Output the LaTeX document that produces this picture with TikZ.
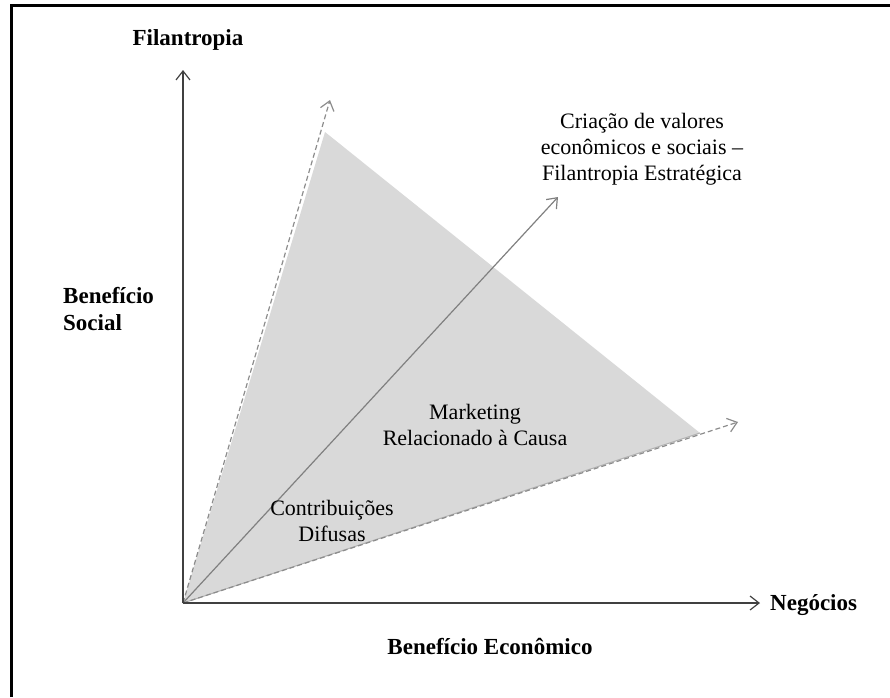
\documentclass[tikz,border=0pt]{standalone}
\usepackage{fontspec}
\setmainfont{Liberation Serif}
\usetikzlibrary{arrows.meta}

\begin{document}
\begin{tikzpicture}[
  x=1pt, y=-1pt,
  every node/.style = {font=\fontsize{22}{26}\selectfont, align=center, inner sep=0pt},
  axislabel/.style = {font=\fontsize{23}{27}\selectfont\bfseries},
  axis/.style = {-{Straight Barb[length=9pt, width=14pt]}, line width=1.2pt, draw=black!75},
  guide/.style = {-{Straight Barb[length=9pt, width=14pt]}, dash pattern=on 5pt off 3pt, line width=1.2pt, draw=black!45},
  diag/.style = {-{Straight Barb[length=9pt, width=14pt]}, line width=1.2pt, draw=black!50}
]
  \useasboundingbox (0,0) rectangle (890,697);
  % frame
  \draw[line width=3pt] (11,697) -- (11,5) -- (890,5);

  \coordinate (O) at (183,603);
  \coordinate (ytip) at (183,70);
  \coordinate (xtip) at (760,603);
  \coordinate (top) at (325,132);
  \coordinate (right) at (700,433);
  \coordinate (toptip) at (330,100);
  \coordinate (righttip) at (738,422);
  \coordinate (diagtip) at (558,197);

  % shaded area
  \fill[black!15] (O) -- (top) -- (right) -- cycle;
  \draw[black!30, line width=1pt] (O) -- (right);

  \draw[guide] (O) -- (toptip);
  \draw[guide] (O) -- (righttip);
  \draw[diag] (O) -- (diagtip);
  \draw[axis] (O) -- (ytip);
  \draw[axis] (O) -- (xtip);

  \node[axislabel] (filantropia) at (188,40) {Filantropia};
  \node[axislabel, align=left, anchor=west] (social) at (63,309) {Benefício\\Social};
  \node[axislabel, anchor=west] (negocios) at (770,605) {Negócios};
  \node[axislabel] (economico) at (490,646) {Benefício Econômico};

  \node (estrategica) at (642,149) {Criação de valores\\econômicos e sociais –\\Filantropia Estratégica};
  \node (marketing) at (475,425) {Marketing\\Relacionado à Causa};
  \node (difusas) at (332,521) {Contribuições\\Difusas};
\end{tikzpicture}
\end{document}
